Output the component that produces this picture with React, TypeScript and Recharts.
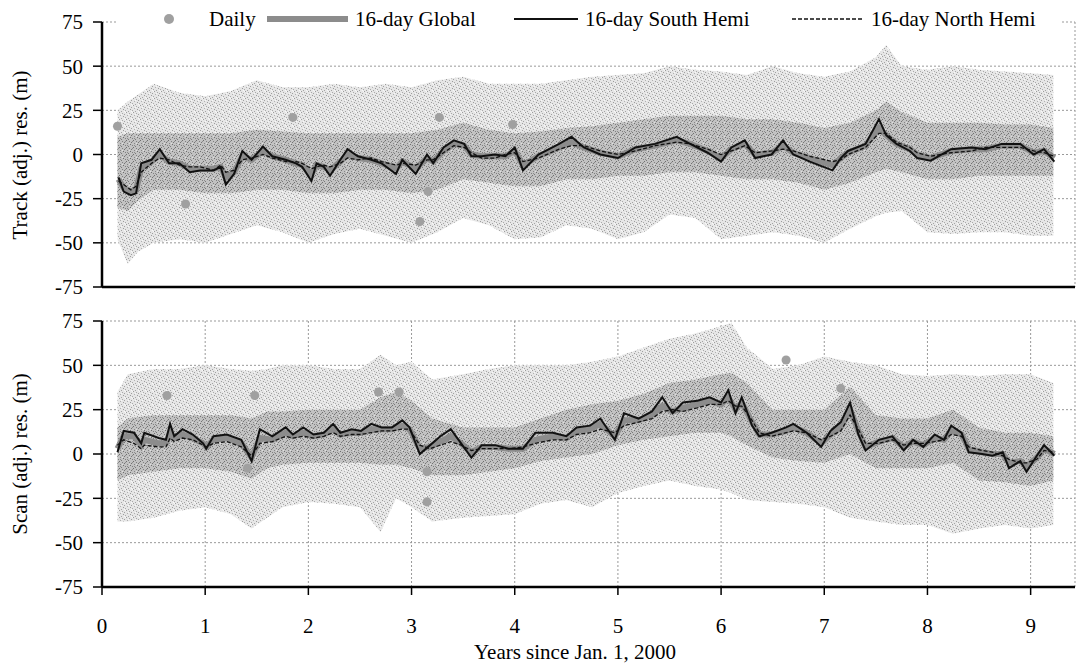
import React from 'react';
import { ComposedChart, Area, Line, Scatter, XAxis, YAxis, CartesianGrid } from 'recharts';

// axes
const yearTicks = [0, 1, 2, 3, 4, 5, 6, 7, 8, 9];
const resTicks = [-75, -50, -25, 0, 25, 50, 75];

// ---- Track panel: daily cloud envelopes (outer = all daily points, inner = dense core)
const trackBandT = [0.15, 0.25, 0.35, 0.5, 0.75, 1, 1.25, 1.5, 1.75, 2, 2.25, 2.5, 2.75, 3, 3.25, 3.5, 3.75, 4, 4.25, 4.5, 4.75, 5, 5.25, 5.5, 5.75, 6, 6.25, 6.5, 6.75, 7, 7.25, 7.5, 7.6, 7.75, 8, 8.25, 8.5, 8.75, 9, 9.22];
const trackHi = [25, 30, 34, 40, 35, 33, 36, 42, 38, 38, 40, 38, 40, 38, 42, 44, 40, 40, 40, 42, 44, 45, 46, 50, 48, 47, 45, 50, 46, 44, 47, 55, 62, 50, 48, 50, 48, 47, 46, 45];
const trackLo = [-48, -62, -55, -50, -48, -50, -45, -40, -44, -50, -45, -42, -46, -50, -44, -36, -40, -48, -47, -40, -42, -48, -44, -34, -36, -48, -46, -44, -46, -50, -42, -35, -33, -32, -44, -45, -44, -44, -46, -46];
const trackInHi = [10, 12, 12, 12, 12, 12, 12, 14, 13, 12, 12, 12, 12, 12, 14, 18, 14, 12, 13, 15, 16, 18, 20, 22, 22, 22, 20, 20, 18, 15, 18, 25, 30, 24, 18, 18, 18, 17, 17, 15];
const trackInLo = [-30, -32, -26, -20, -20, -22, -22, -20, -20, -22, -22, -20, -20, -22, -20, -14, -16, -18, -18, -14, -14, -12, -12, -10, -10, -12, -14, -14, -16, -20, -16, -10, -8, -10, -14, -14, -12, -12, -12, -12];
const trackDotT = [0.15, 0.81, 1.85, 3.08, 3.16, 3.27, 3.98];
const trackDotV = [16, -28, 21, -38, -21, 21, 17];

// ---- Track panel: 16-day means
const trackT = [0.16, 0.21, 0.28, 0.33, 0.38, 0.48, 0.56, 0.65, 0.75, 0.85, 0.95, 1.08, 1.15, 1.2, 1.28, 1.36, 1.45, 1.56, 1.65, 1.78, 1.88, 1.94, 2.03, 2.08, 2.15, 2.21, 2.31, 2.38, 2.48, 2.61, 2.71, 2.85, 2.91, 3.04, 3.15, 3.21, 3.31, 3.41, 3.51, 3.58, 3.68, 3.81, 3.91, 4.0, 4.08, 4.23, 4.43, 4.55, 4.67, 4.83, 5.0, 5.17, 5.36, 5.57, 5.7, 5.87, 6.0, 6.1, 6.23, 6.33, 6.49, 6.6, 6.7, 6.86, 7.08, 7.16, 7.23, 7.4, 7.53, 7.6, 7.7, 7.83, 7.9, 8.03, 8.23, 8.43, 8.56, 8.72, 8.9, 9.03, 9.13, 9.23];
const trackGlobal = [-14, -19, -21, -20, -8, -4, 0, -4, -5, -8, -8, -8, -7, -13, -10, -1, -3, 2, -1, -3, -5, -6, -11, -6, -7, -9, -4, 0, -2, -3, -5, -8, -4, -8, -2, -4, 2, 6, 5, 0, -1, -1, -1, 2, -6, -1, 4, 7, 4, 1, -1, 3, 5, 8, 6, 2, -2, 3, 6, 0, 1, 5, 1, -2, -6, -2, 1, 5, 15, 11, 6, 3, 0, -2, 2, 3, 3, 5, 5, 1, 2, -2];
const trackSouth = [-13, -21, -23, -22, -5, -3, 3, -5, -5, -10, -9, -9, -7, -17, -11, 2, -3, 4.5, -1, -3, -5, -7, -15, -5, -7, -12, -3, 3, -1, -3, -5, -11, -3, -11, 0, -5, 4, 8, 6, -1, -1, 0, -1, 4, -9, 0, 6, 10, 4, 0, -2, 4, 6, 10, 6, 1, -4, 4, 8, -2, 0, 8, 0, -4, -9, -2, 2, 6, 20, 11, 6, 2, -2, -3.5, 3, 4, 3, 6, 6, 0, 3, -4];
const trackNorth = [-15, -17, -20, -18, -10, -5, -2, -3, -6, -7, -7, -9, -6, -10, -9, -3, -2, 0, -2, -4, -4, -5, -8, -7, -6, -7, -5, -2, -3, -2, -4, -6, -5, -6, -3, -3, 1, 5, 4, 1, -2, -2, 0, 1, -4, -2, 3, 5, 5, 2, 0, 2, 5, 7, 6, 3, 0, 2, 5, 1, 2, 3, 2, -1, -4, -3, 0, 4, 12, 12, 7, 4, 1, -1, 1, 2, 4, 4, 4, 2, 1, -1];

// ---- Scan panel: daily cloud envelopes
const scanBandT = [0.15, 0.25, 0.5, 0.75, 1, 1.25, 1.45, 1.6, 1.75, 2, 2.25, 2.5, 2.7, 2.85, 3, 3.2, 3.5, 3.75, 4, 4.25, 4.5, 4.75, 5, 5.25, 5.5, 5.75, 6, 6.1, 6.25, 6.5, 6.75, 7, 7.25, 7.5, 7.75, 8, 8.25, 8.5, 8.75, 9, 9.22];
const scanHi = [35, 45, 48, 48, 50, 48, 47, 48, 50, 50, 48, 48, 56, 50, 52, 42, 45, 48, 50, 50, 50, 52, 55, 60, 65, 68, 72, 74, 60, 48, 50, 55, 52, 50, 45, 44, 45, 44, 45, 45, 40];
const scanLo = [-38, -38, -36, -32, -30, -34, -42, -36, -30, -27, -28, -30, -44, -25, -30, -38, -36, -35, -34, -28, -26, -30, -22, -18, -15, -18, -20, -22, -26, -27, -28, -30, -36, -38, -40, -40, -45, -42, -40, -42, -40];
const scanInHi = [15, 20, 22, 22, 22, 22, 20, 24, 24, 25, 25, 25, 32, 35, 30, 20, 15, 15, 15, 20, 25, 28, 30, 34, 40, 42, 45, 46, 40, 25, 25, 25, 38, 22, 20, 20, 25, 15, 12, 12, 10];
const scanInLo = [-15, -12, -10, -8, -8, -10, -14, -8, -6, -5, -5, -5, -6, -6, -8, -12, -12, -10, -8, -4, -2, 0, 5, 8, 10, 12, 12, 10, 5, -2, -4, -5, 0, -8, -8, -8, -5, -15, -16, -18, -15];
const scanDotT = [0.63, 1.41, 1.48, 2.68, 2.88, 3.15, 3.15, 6.63, 7.16];
const scanDotV = [33, -8, 33, 35, 35, -10, -27, 53, 37];

// ---- Scan panel: 16-day means
const scanT = [0.15, 0.21, 0.31, 0.38, 0.41, 0.55, 0.62, 0.66, 0.7, 0.78, 0.88, 0.98, 1.01, 1.08, 1.21, 1.35, 1.45, 1.53, 1.65, 1.78, 1.85, 1.95, 2.05, 2.15, 2.24, 2.31, 2.42, 2.51, 2.61, 2.71, 2.81, 2.91, 2.98, 3.08, 3.18, 3.28, 3.38, 3.48, 3.58, 3.68, 3.81, 3.94, 4.08, 4.2, 4.37, 4.5, 4.6, 4.73, 4.83, 4.97, 5.06, 5.2, 5.33, 5.43, 5.53, 5.63, 5.77, 5.89, 6.0, 6.07, 6.14, 6.2, 6.3, 6.37, 6.49, 6.63, 6.7, 6.83, 6.97, 7.06, 7.16, 7.25, 7.33, 7.4, 7.53, 7.66, 7.77, 7.86, 7.96, 8.07, 8.16, 8.23, 8.33, 8.4, 8.53, 8.63, 8.73, 8.79, 8.9, 8.96, 9.06, 9.13, 9.23];
const scanGlobal = [3, 10, 10, 5, 8, 6, 6, 12, 9, 11, 9, 6, 4, 8, 9, 6, -2, 9, 8, 12, 10, 12, 10, 11, 14, 11, 12, 12, 14, 14, 14, 16, 14, 3, 4, 7, 10, 6, 1, 4, 4, 3, 3, 8, 10, 9, 13, 14, 17, 10, 19, 19, 22, 27, 24, 26, 28, 30, 28, 32, 25, 29, 18, 11, 11, 13, 15, 12, 6, 11, 15, 25, 13, 4, 7, 9, 4, 7, 5, 9, 8, 13, 11, 3, 1, 0, 0, -5, -4, -7, -2, 3, 0];
const scanSouth = [1, 13, 12, 6, 12, 9, 8, 17, 10, 14, 11, 6, 3, 10, 11, 8, -4, 14, 10, 15, 11, 15, 11, 12, 17, 12, 14, 13, 17, 15, 15, 19, 15, 0, 5, 10, 14, 6, -2, 5, 5, 3, 3, 12, 12, 10, 15, 16, 20, 8, 23, 20, 24, 32, 23, 29, 30, 32, 29, 36, 23, 32, 16, 10, 12, 15, 17, 12, 4, 13, 18, 29, 11, 2, 8, 10, 2, 8, 4, 11, 8, 16, 12, 1, 0, -1, 1, -8, -4, -10, -1, 5, -1];
const scanNorth = [5, 8, 6, 3, 5, 4, 4, 9, 7, 9, 8, 5, 4, 6, 7, 4, -1, 6, 7, 10, 9, 10, 9, 10, 12, 10, 11, 11, 12, 13, 13, 14, 14, 5, 3, 5, 7, 5, 2, 3, 3, 3, 4, 6, 8, 8, 11, 12, 14, 12, 16, 18, 20, 24, 25, 24, 26, 28, 28, 30, 27, 27, 19, 12, 10, 12, 13, 12, 8, 10, 13, 22, 14, 6, 6, 8, 5, 6, 6, 7, 8, 11, 10, 4, 2, 1, -1, -3, -5, -5, -3, 2, 1];

const FONT = 'Liberation Serif, Times New Roman, serif';

const bandRows = (t: number[], lo: number[], hi: number[], inLo: number[], inHi: number[]) =>
  t.map((x, i) => ({ t: x, outer: [lo[i], hi[i]], inner: [inLo[i], inHi[i]] }));
const lineRows = (t: number[], g: number[], s: number[], n: number[]) =>
  t.map((x, i) => ({ t: x, g: g[i], s: s[i], n: n[i] }));
const dotRows = (t: number[], v: number[]) => t.map((x, i) => ({ t: x, v: v[i] }));

// custom tick text so the serif face is really used
const YTick = (props: any) => (
  <text x={props.x} y={props.y} dy="0.35em" textAnchor="end" fill="#000" fontSize={21} style={{ fontFamily: FONT }}>
    {props.payload.value}
  </text>
);
const XTick = (props: any) => (
  <text x={props.x} y={props.y} dy="0.75em" textAnchor="middle" fill="#000" fontSize={21} style={{ fontFamily: FONT }}>
    {props.payload.value}
  </text>
);

interface PanelProps {
  height: number;
  marginTop: number;
  axisHeight: number;
  showLabels: boolean;
  bands: any[];
  lines: any[];
  dots: any[];
}

function Panel({ height, marginTop, axisHeight, showLabels, bands, lines, dots }: PanelProps) {
  return (
    <ComposedChart width={1079} height={height} margin={{ top: marginTop, right: 4, bottom: 0, left: 0 }}>
      <CartesianGrid stroke="#999" strokeDasharray="2 2" strokeWidth={1} />
      <XAxis
        type="number"
        dataKey="t"
        domain={[0, 9.43]}
        ticks={yearTicks}
        interval={0}
        allowDataOverflow
        height={axisHeight}
        tickSize={8}
        tickMargin={22}
        tick={showLabels ? XTick : false}
        axisLine={{ stroke: '#000', strokeWidth: 2.5 }}
        tickLine={{ stroke: '#000', strokeWidth: 1.5 }}
      />
      <YAxis
        type="number"
        domain={[-75, 75]}
        ticks={resTicks}
        interval={0}
        allowDataOverflow
        width={102}
        tickSize={9}
        tickMargin={10}
        tick={YTick}
        axisLine={{ stroke: '#000', strokeWidth: 2.5 }}
        tickLine={{ stroke: '#000', strokeWidth: 1.5 }}
      />
      <Area data={bands} dataKey="outer" type="linear" stroke="none" fill="url(#stippleLight)" fillOpacity={1} isAnimationActive={false} />
      <Area data={bands} dataKey="inner" type="linear" stroke="none" fill="url(#stippleDark)" fillOpacity={1} isAnimationActive={false} />
      <Scatter data={dots} dataKey="v" fill="#a0a0a0" isAnimationActive={false} />
      <Line data={lines} dataKey="g" type="linear" stroke="#8c8c8c" strokeWidth={6} dot={false} isAnimationActive={false} />
      <Line data={lines} dataKey="n" type="linear" stroke="#111" strokeWidth={1.3} strokeDasharray="4 2" dot={false} isAnimationActive={false} />
      <Line data={lines} dataKey="s" type="linear" stroke="#111" strokeWidth={2} dot={false} isAnimationActive={false} />
    </ComposedChart>
  );
}

const textBase: React.CSSProperties = { position: 'absolute', fontFamily: FONT, fontSize: 21, color: '#000', whiteSpace: 'nowrap', lineHeight: 1 };

function Legend() {
  return (
    <div style={{ position: 'absolute', left: 118, top: 0, width: 944, height: 38, background: '#fff' }}>
      <svg style={{ position: 'absolute', left: 0, top: 0 }} width={944} height={38}>
        <circle cx={51} cy={19} r={5} fill="#a0a0a0" />
        <line x1={149} y1={19} x2={230} y2={19} stroke="#8c8c8c" strokeWidth={6} />
        <line x1={396} y1={19} x2={460} y2={19} stroke="#111" strokeWidth={2} />
        <line x1={674} y1={19} x2={746} y2={19} stroke="#111" strokeWidth={1.3} strokeDasharray="4 2" />
      </svg>
      <span style={{ ...textBase, left: 91, top: 9 }}>Daily</span>
      <span style={{ ...textBase, left: 237, top: 9 }}>16-day Global</span>
      <span style={{ ...textBase, left: 467, top: 9 }}>16-day South Hemi</span>
      <span style={{ ...textBase, left: 753, top: 9 }}>16-day North Hemi</span>
    </div>
  );
}

function RotatedLabel({ text, cx, cy }: { text: string; cx: number; cy: number }) {
  return (
    <div style={{ ...textBase, left: cx, top: cy, transform: 'translate(-50%, -50%) rotate(-90deg)' }}>{text}</div>
  );
}

export default function App() {
  const trackBands = bandRows(trackBandT, trackLo, trackHi, trackInLo, trackInHi);
  const trackLines = lineRows(trackT, trackGlobal, trackSouth, trackNorth);
  const trackDots = dotRows(trackDotT, trackDotV);
  const scanBands = bandRows(scanBandT, scanLo, scanHi, scanInLo, scanInHi);
  const scanLines = lineRows(scanT, scanGlobal, scanSouth, scanNorth);
  const scanDots = dotRows(scanDotT, scanDotV);

  return (
    <div style={{ position: 'absolute', left: 0, top: 0, width: 1079, height: 666, background: '#fff', overflow: 'hidden', fontFamily: FONT }}>
      {/* stipple textures for the daily point cloud */}
      <svg width={0} height={0} style={{ position: 'absolute' }}>
        <defs>
          <pattern id="stippleLight" width={7} height={7} patternUnits="userSpaceOnUse">
            <rect width={7} height={7} fill="#e6e6e6" />
            <rect x={0} y={0} width={1} height={1} fill="#9c9c9c" />
            <rect x={3} y={1} width={1} height={1} fill="#aaaaaa" />
            <rect x={5} y={2} width={1} height={1} fill="#a0a0a0" />
            <rect x={1} y={3} width={1} height={1} fill="#b0b0b0" />
            <rect x={4} y={4} width={1} height={1} fill="#9c9c9c" />
            <rect x={6} y={5} width={1} height={1} fill="#aaaaaa" />
            <rect x={2} y={6} width={1} height={1} fill="#a4a4a4" />
            <rect x={6} y={0} width={1} height={1} fill="#f8f8f8" />
            <rect x={2} y={2} width={1} height={1} fill="#f8f8f8" />
            <rect x={5} y={6} width={1} height={1} fill="#f8f8f8" />
          </pattern>
          <pattern id="stippleDark" width={7} height={7} patternUnits="userSpaceOnUse">
            <rect width={7} height={7} fill="#c2c2c2" />
            <rect x={0} y={0} width={1} height={1} fill="#6e6e6e" />
            <rect x={3} y={1} width={1} height={1} fill="#808080" />
            <rect x={5} y={2} width={1} height={1} fill="#747474" />
            <rect x={1} y={3} width={1} height={1} fill="#868686" />
            <rect x={4} y={4} width={1} height={1} fill="#6e6e6e" />
            <rect x={6} y={5} width={1} height={1} fill="#808080" />
            <rect x={2} y={6} width={1} height={1} fill="#7a7a7a" />
            <rect x={6} y={1} width={1} height={1} fill="#8c8c8c" />
            <rect x={1} y={5} width={1} height={1} fill="#8c8c8c" />
            <rect x={3} y={3} width={1} height={1} fill="#e0e0e0" />
          </pattern>
        </defs>
      </svg>
      <div style={{ position: 'absolute', left: 0, top: 0 }}>
        <Panel height={300} marginTop={22} axisHeight={13} showLabels={false} bands={trackBands} lines={trackLines} dots={trackDots} />
      </div>
      <div style={{ position: 'absolute', left: 0, top: 300 }}>
        <Panel height={366} marginTop={21} axisHeight={79} showLabels bands={scanBands} lines={scanLines} dots={scanDots} />
      </div>
      <Legend />
      <RotatedLabel text="Track (adj.) res. (m)" cx={20} cy={155} />
      <RotatedLabel text="Scan (adj.) res. (m)" cx={20} cy={454} />
      <div style={{ ...textBase, left: 575, top: 652, transform: 'translate(-50%, -50%)' }}>Years since Jan. 1, 2000</div>
    </div>
  );
}
